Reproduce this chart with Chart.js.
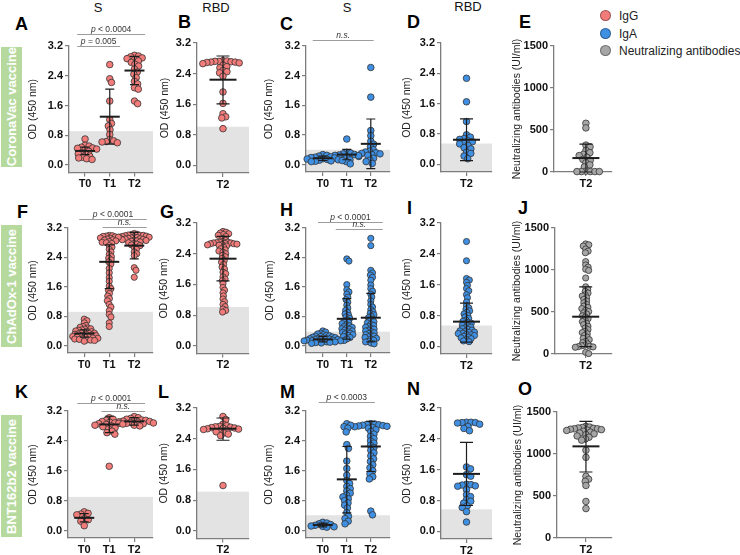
<!DOCTYPE html>
<html><head><meta charset="utf-8">
<script src="https://cdn.jsdelivr.net/npm/chart.js@4.4.1/dist/chart.umd.min.js"></script>
<style>
html,body{margin:0;padding:0;background:#fff;}
body{width:740px;height:555px;position:relative;overflow:hidden;font-family:"Liberation Sans",Arial,sans-serif;}
.letter{position:absolute;font-weight:bold;font-size:18px;line-height:1;color:#000;}
.ttl{position:absolute;font-size:13px;line-height:14px;color:#111;text-align:center;width:60px;}
.vac{position:absolute;left:1px;width:21px;background:#b6da9e;color:#fff;font-weight:bold;font-size:13px;display:flex;align-items:center;justify-content:center;}
.vac span{writing-mode:vertical-rl;transform:rotate(180deg);white-space:nowrap;}
.leg{position:absolute;left:600px;top:8px;font-size:12px;line-height:17.5px;color:#222;white-space:nowrap;}
.leg .dot{display:inline-block;width:9px;height:9px;border-radius:50%;margin-right:8px;vertical-align:-1px;border:0.5px solid rgba(0,0,0,0.35);}
canvas{position:absolute;}
</style></head><body>

<div class="vac" style="top:47px;height:120px"><span>CoronaVac vaccine</span></div>
<div class="vac" style="top:225px;height:122px"><span>ChAdOx-1 vaccine</span></div>
<div class="vac" style="top:415px;height:122px"><span>BNT162b2 vaccine</span></div>

<div class="ttl" style="left:68px;top:1px">S</div>
<div class="ttl" style="left:186px;top:1px">RBD</div>
<div class="ttl" style="left:317px;top:1px">S</div>
<div class="ttl" style="left:438px;top:0px">RBD</div>

<div class="letter" style="left:15px;top:15px">A</div>
<div class="letter" style="left:178px;top:13px">B</div>
<div class="letter" style="left:280px;top:15px">C</div>
<div class="letter" style="left:407px;top:13px">D</div>
<div class="letter" style="left:519px;top:13px">E</div>
<div class="letter" style="left:17px;top:203px">F</div>
<div class="letter" style="left:160px;top:203px">G</div>
<div class="letter" style="left:280px;top:201px">H</div>
<div class="letter" style="left:407px;top:199px">I</div>
<div class="letter" style="left:518px;top:199px">J</div>
<div class="letter" style="left:15px;top:383px">K</div>
<div class="letter" style="left:158px;top:383px">L</div>
<div class="letter" style="left:280px;top:383px">M</div>
<div class="letter" style="left:407px;top:380px">N</div>
<div class="letter" style="left:518px;top:380px">O</div>

<div class="leg">
  <div><span class="dot" style="background:#f27c7a"></span>IgG</div>
  <div><span class="dot" style="background:#3f8fe2"></span>IgA</div>
  <div><span class="dot" style="background:#a6a6a6"></span>Neutralizing antibodies</div>
</div>

<script>
// ---------- tick labels & categories ----------
const odTicks = [0, 0.8, 1.6, 2.4, 3.2];
const nabTicks = [0, 500, 1000, 1500];
const cats3 = ['T0', 'T1', 'T2'];
const cats1 = ['T2'];

// ---------- CoronaVac ----------
const A_T0 = [0.70, 0.53, 0.51, 0.48, 0.46, 0.45, 0.43, 0.41, 0.37, 0.33, 0.30, 0.28, 0.24, 0.21, 0.19, 0.17, 0.15];
const A_T1 = [2.70, 2.32, 2.22, 1.72, 1.22, 1.12, 1.05, 0.95, 0.82, 0.68, 0.65, 0.63, 0.62, 0.60];
const A_T2 = [2.95, 2.93, 2.91, 2.88, 2.86, 2.83, 2.80, 2.76, 2.71, 2.66, 2.58, 2.50, 2.44, 2.35, 2.25, 2.18, 2.08, 2.04, 1.72, 1.65];
const A_mid = [0.38, 1.30, 2.54], A_lo = [0.28, 0.56, 2.16], A_hi = [0.48, 2.04, 2.92];
const A_cut = 0.91;

const B_T2 = [2.74, 2.73, 2.72, 2.72, 2.71, 2.70, 2.70, 2.69, 2.68, 2.66, 2.62, 2.58, 2.55, 2.48, 2.45, 2.42, 2.33, 1.92, 1.62, 1.35, 1.27, 1.24, 0.96];
const B_mid = [2.24], B_lo = [1.61], B_hi = [2.86];
const B_cut = 1.01;

const C_T0 = [0.27, 0.25, 0.23, 0.21, 0.20, 0.19, 0.18, 0.16, 0.15, 0.14, 0.13, 0.12, 0.11, 0.10, 0.09, 0.08];
const C_T1 = [0.69, 0.33, 0.31, 0.29, 0.27, 0.26, 0.25, 0.24, 0.20, 0.13, 0.08, 0.02];
const C_T2 = [2.62, 1.82, 0.92, 0.78, 0.63, 0.55, 0.48, 0.40, 0.36, 0.34, 0.32, 0.30, 0.29, 0.27, 0.25, 0.22, 0.17, 0.12, 0.08, 0.03];
const C_mid = [0.17, 0.27, 0.56], C_lo = [0.11, 0.13, -0.11], C_hi = [0.23, 0.41, 1.23];
const C_cut = 0.40;

const D_T2 = [2.27, 1.65, 1.13, 0.78, 0.72, 0.68, 0.66, 0.62, 0.60, 0.56, 0.54, 0.50, 0.44, 0.41, 0.32, 0.29, 0.22, 0.15];
const D_mid = [0.65], D_lo = [0.10], D_hi = [1.20];
const D_cut = 0.55;

const E_T2 = [580, 525, 320, 300, 255, 230, 210, 195, 175, 150, 140, 110, 85, 60, 10, 5, 5, 5, 5, 5];
const E_mid = [166], E_lo = [0], E_hi = [332];

// ---------- ChAdOx-1 ----------
const F_T0 = [0.72, 0.68, 0.62, 0.55, 0.52, 0.50, 0.48, 0.46, 0.45, 0.43, 0.42, 0.40, 0.39, 0.38, 0.36, 0.35, 0.34, 0.33, 0.32, 0.31, 0.30, 0.29, 0.28, 0.27, 0.26, 0.25, 0.24, 0.23, 0.22, 0.21, 0.20, 0.19, 0.18, 0.17, 0.16, 0.15, 0.14, 0.12];
const F_T1 = [3.00, 2.99, 2.98, 2.97, 2.96, 2.95, 2.93, 2.92, 2.90, 2.88, 2.87, 2.85, 2.83, 2.81, 2.80, 2.78, 2.72, 2.68, 2.62, 2.55, 2.48, 2.42, 2.38, 2.33, 2.28, 2.22, 2.10, 1.98, 1.85, 1.75, 1.62, 1.55, 1.50, 1.42, 1.35, 1.28, 1.22, 1.12, 1.05, 0.95, 0.85, 0.78, 0.62, 0.52];
const F_T2 = [3.05, 3.03, 3.02, 3.01, 3.00, 3.00, 2.99, 2.98, 2.97, 2.96, 2.95, 2.95, 2.94, 2.93, 2.92, 2.91, 2.90, 2.89, 2.88, 2.87, 2.86, 2.85, 2.84, 2.82, 2.80, 2.78, 2.76, 2.74, 2.72, 2.68, 2.62, 2.55, 2.50, 2.45, 2.12, 2.05, 1.86];
const F_mid = [0.33, 2.28, 2.72], F_lo = [0.23, 1.55, 2.36], F_hi = [0.43, 2.74, 3.08];
const F_cut = 0.92;

const G_T2 = [2.98, 2.96, 2.94, 2.92, 2.90, 2.88, 2.85, 2.80, 2.75, 2.72, 2.70, 2.70, 2.69, 2.68, 2.68, 2.67, 2.66, 2.66, 2.65, 2.64, 2.63, 2.62, 2.60, 2.57, 2.53, 2.50, 2.47, 2.44, 2.40, 2.36, 2.32, 2.28, 2.22, 2.18, 2.12, 2.05, 2.00, 1.92, 1.88, 1.80, 1.74, 1.70, 1.62, 1.52, 1.45, 1.38, 1.30, 1.22, 1.15, 1.08, 1.02, 0.96, 0.92, 0.88];
const G_mid = [2.27], G_lo = [1.69], G_hi = [2.85];
const G_cut = 1.01;

const H_T0 = [0.40, 0.37, 0.34, 0.32, 0.30, 0.28, 0.27, 0.26, 0.25, 0.24, 0.23, 0.22, 0.21, 0.20, 0.19, 0.19, 0.18, 0.17, 0.17, 0.16, 0.15, 0.15, 0.14, 0.13, 0.13, 0.12, 0.11, 0.10, 0.10, 0.09, 0.08, 0.07, 0.06];
const H_T1 = [2.36, 2.30, 1.66, 1.52, 1.46, 1.40, 1.32, 1.25, 1.18, 1.10, 1.02, 0.96, 0.90, 0.86, 0.82, 0.78, 0.74, 0.70, 0.66, 0.63, 0.60, 0.57, 0.54, 0.52, 0.50, 0.48, 0.46, 0.44, 0.42, 0.40, 0.38, 0.36, 0.34, 0.32, 0.30, 0.28, 0.25, 0.22, 0.18, 0.14];
const H_T2 = [2.92, 2.72, 2.05, 1.98, 1.92, 1.86, 1.78, 1.65, 1.55, 1.48, 1.40, 1.32, 1.22, 1.12, 1.05, 0.98, 0.92, 0.88, 0.84, 0.80, 0.76, 0.72, 0.68, 0.65, 0.62, 0.58, 0.55, 0.52, 0.50, 0.47, 0.45, 0.42, 0.40, 0.38, 0.35, 0.33, 0.30, 0.28, 0.26, 0.24, 0.22, 0.20, 0.18, 0.15, 0.12, 0.10, 0.07, 0.05];
const H_mid = [0.17, 0.73, 0.76], H_lo = [0.10, 0.18, 0.10], H_hi = [0.25, 1.28, 1.42];
const H_cut = 0.38;

const I_T2 = [2.72, 2.22, 1.76, 1.72, 1.66, 1.58, 1.50, 1.44, 1.34, 1.26, 1.15, 1.06, 1.00, 0.96, 0.92, 0.88, 0.84, 0.80, 0.76, 0.72, 0.68, 0.65, 0.62, 0.60, 0.58, 0.55, 0.53, 0.50, 0.48, 0.46, 0.44, 0.42, 0.40, 0.39, 0.37, 0.36, 0.34, 0.33, 0.31, 0.30, 0.28, 0.26, 0.24, 0.22, 0.20, 0.17, 0.14, 0.12];
const I_mid = [0.64], I_lo = [0.11], I_hi = [1.12];
const I_cut = 0.54;

const J_T2 = [1310, 1300, 1285, 1250, 1225, 1205, 1100, 1060, 1035, 1010, 995, 905, 800, 770, 745, 725, 705, 690, 670, 650, 630, 610, 590, 570, 555, 540, 520, 505, 490, 475, 455, 440, 420, 400, 385, 365, 350, 330, 310, 290, 270, 255, 240, 220, 200, 185, 170, 150, 135, 120, 105, 98, 92, 88, 84, 80, 20, 5];
const J_mid = [444], J_lo = [88], J_hi = [800];

// ---------- BNT162b2 ----------
const K_T0 = [0.50, 0.46, 0.44, 0.42, 0.31, 0.29, 0.25, 0.13];
const K_T1 = [3.02, 2.98, 2.95, 2.92, 2.90, 2.88, 2.87, 2.86, 2.85, 2.84, 2.82, 2.80, 2.78, 2.75, 2.72, 2.66, 2.62, 2.58, 1.72];
const K_T2 = [3.05, 3.02, 3.00, 2.98, 2.96, 2.95, 2.94, 2.93, 2.92, 2.91, 2.90, 2.89, 2.88, 2.87, 2.86, 2.85, 2.84, 2.82, 2.80];
const K_mid = [0.34, 2.84, 2.92], K_lo = [0.23, 2.62, 2.82], K_hi = [0.45, 3.06, 3.02];
const K_cut = 0.90;

const L_T2 = [2.98, 2.90, 2.78, 2.74, 2.72, 2.71, 2.70, 2.69, 2.68, 2.67, 2.66, 2.65, 2.64, 2.62, 2.60, 2.58, 2.55, 2.52, 2.48, 1.18];
const L_mid = [2.66], L_lo = [2.36], L_hi = [2.94];
const L_cut = 1.02;

const M_T0 = [0.22, 0.20, 0.18, 0.16, 0.14, 0.12, 0.11, 0.10, 0.09];
const M_T1 = [2.86, 2.82, 2.78, 2.74, 2.64, 2.30, 2.20, 1.86, 1.66, 1.48, 1.34, 1.26, 1.18, 1.12, 1.06, 1.00, 0.95, 0.90, 0.85, 0.80, 0.74, 0.68, 0.60, 0.48, 0.38, 0.32, 0.25, 0.18];
const M_T2 = [2.86, 2.85, 2.84, 2.83, 2.82, 2.81, 2.80, 2.79, 2.78, 2.76, 2.74, 2.70, 2.65, 2.58, 2.52, 2.46, 2.40, 2.34, 2.28, 2.22, 2.15, 2.08, 2.00, 1.92, 1.85, 1.76, 1.68, 1.60, 1.52, 1.44, 1.38, 0.52, 0.42];
const M_mid = [0.15, 1.37, 2.25], M_lo = [0.10, 0.47, 1.58], M_hi = [0.20, 2.25, 2.92];
const M_cut = 0.41;

const N_T2 = [2.83, 2.83, 2.82, 2.82, 2.81, 2.78, 2.72, 2.67, 2.61, 1.67, 1.62, 1.47, 1.43, 1.22, 1.21, 1.20, 1.18, 1.17, 1.08, 0.95, 0.90, 0.82, 0.78, 0.73, 0.66, 0.62, 0.51, 0.24];
const N_mid = [1.49], N_lo = [0.67], N_hi = [2.31];
const N_cut = 0.57;

const O_T2 = [1330, 1320, 1315, 1310, 1305, 1300, 1300, 1295, 1290, 1285, 1280, 1270, 1260, 1250, 1240, 1230, 1215, 1200, 1180, 1165, 1045, 960, 735, 700, 675, 625, 435, 350];
const O_mid = [1091], O_lo = [786], O_hi = [1389];

// ---------- styles ----------
const FONT = '"Liberation Sans", Arial, sans-serif';
const IGG = '#f27c7a', IGA = '#3f8fe2', NAB = '#a6a6a6';
const AXIS = '#7d7d7d', BAND = '#e3e3e3';
const OD_TITLE = 'OD (450 nm)', NAB_TITLE = 'Neutralizing antibodies (UI/ml)';
const fmtOD = v => v.toFixed(1), fmtN = v => String(v);

const od = {yMin: -0.2, yMax: 3.2, ticks: odTicks, fmt: fmtOD, yTitle: OD_TITLE};
const nb = {yMin: 0, yMax: 1500, ticks: nabTicks, fmt: fmtN, yTitle: NAB_TITLE, cut: null};

const panels = [
  Object.assign({}, od, {cats: cats3, groups: [A_T0, A_T1, A_T2], mid: A_mid, lo: A_lo, hi: A_hi, cut: A_cut, color: IGG,
    titleX: 33, left: 69, right: 153, top: 46, bottom: 172.5, xMin: -0.65, xMax: 2.75, r: 3.3, sep: 0.62,
    brackets: [{x1: -0.32, x2: 2.43, off: 12, text: 'p < 0.0004'}, {x1: -0.32, x2: 1.42, off: 0, text: 'p = 0.005'}]}),
  Object.assign({}, od, {cats: cats1, groups: [B_T2], mid: B_mid, lo: B_lo, hi: B_hi, cut: B_cut, color: IGG,
    titleX: 165, left: 197, right: 249, top: 43, bottom: 173, xMin: -1, xMax: 1, r: 3.3, sep: 0.62}),
  Object.assign({}, od, {cats: cats3, groups: [C_T0, C_T1, C_T2], mid: C_mid, lo: C_lo, hi: C_hi, cut: C_cut, color: IGA,
    titleX: 269, left: 306, right: 390, top: 46, bottom: 172, xMin: -0.7, xMax: 2.8, r: 3.3, sep: 0.62,
    brackets: [{x1: -0.42, x2: 2.12, off: 6, text: 'n.s.'}]}),
  Object.assign({}, od, {cats: cats1, groups: [D_T2], mid: D_mid, lo: D_lo, hi: D_hi, cut: D_cut, color: IGA,
    titleX: 407, left: 441, right: 492, top: 43, bottom: 172, xMin: -1, xMax: 1, r: 3.3, sep: 0.68}),
  Object.assign({}, nb, {cats: cats1, groups: [E_T2], mid: E_mid, lo: E_lo, hi: E_hi, color: NAB,
    titleX: 517, left: 554, right: 612, top: 46, bottom: 172, xMin: -1.1, xMax: 0.9, r: 3.3, sep: 0.68}),

  Object.assign({}, od, {cats: cats3, groups: [F_T0, F_T1, F_T2], mid: F_mid, lo: F_lo, hi: F_hi, cut: F_cut, color: IGG,
    titleX: 33, left: 68, right: 153, top: 228, bottom: 353, xMin: -0.65, xMax: 2.75, r: 3.1, sep: 0.5,
    brackets: [{x1: -0.2, x2: 2.5, off: 9, text: 'p < 0.0001'}, {x1: 0.73, x2: 2.5, off: 1, text: 'n.s.'}]}),
  Object.assign({}, od, {cats: cats1, groups: [G_T2], mid: G_mid, lo: G_lo, hi: G_hi, cut: G_cut, color: IGG,
    titleX: 164, left: 197, right: 249, top: 223, bottom: 353.5, xMin: -1, xMax: 1, r: 3.1, sep: 0.5}),
  Object.assign({}, od, {cats: cats3, groups: [H_T0, H_T1, H_T2], mid: H_mid, lo: H_lo, hi: H_hi, cut: H_cut, color: IGA,
    titleX: 270, left: 306, right: 390, top: 228, bottom: 353, xMin: -0.7, xMax: 2.8, r: 3.1, sep: 0.5,
    brackets: [{x1: -0.2, x2: 2.5, off: 6, text: 'p < 0.0001'}, {x1: 0.54, x2: 2.5, off: -1, text: 'n.s.'}]}),
  Object.assign({}, od, {cats: cats1, groups: [I_T2], mid: I_mid, lo: I_lo, hi: I_hi, cut: I_cut, color: IGA,
    titleX: 407, left: 441, right: 492, top: 223, bottom: 354, xMin: -1, xMax: 1, r: 3.1, sep: 0.52}),
  Object.assign({}, nb, {cats: cats1, groups: [J_T2], mid: J_mid, lo: J_lo, hi: J_hi, color: NAB,
    titleX: 517, left: 555, right: 612, top: 228, bottom: 354, xMin: -1.05, xMax: 0.9, r: 3.1, sep: 0.52}),

  Object.assign({}, od, {cats: cats3, groups: [K_T0, K_T1, K_T2], mid: K_mid, lo: K_lo, hi: K_hi, cut: K_cut, color: IGG,
    titleX: 33, left: 68, right: 153, top: 411, bottom: 538, xMin: -0.65, xMax: 2.75, r: 3.3, sep: 0.62,
    brackets: [{x1: -0.28, x2: 2.43, off: 8, text: 'p < 0.0001'}, {x1: 0.69, x2: 2.43, off: 0, text: 'n.s.'}]}),
  Object.assign({}, od, {cats: cats1, groups: [L_T2], mid: L_mid, lo: L_lo, hi: L_hi, cut: L_cut, color: IGG,
    titleX: 164, left: 197, right: 249, top: 408, bottom: 538.5, xMin: -1, xMax: 1, r: 3.3, sep: 0.62}),
  Object.assign({}, od, {cats: cats3, groups: [M_T0, M_T1, M_T2], mid: M_mid, lo: M_lo, hi: M_hi, cut: M_cut, color: IGA,
    titleX: 269, left: 306, right: 390, top: 411, bottom: 538, xMin: -0.7, xMax: 2.8, r: 3.3, sep: 0.62,
    brackets: [{x1: -0.17, x2: 2.17, off: 9, text: 'p < 0.0003'}]}),
  Object.assign({}, od, {cats: cats1, groups: [N_T2], mid: N_mid, lo: N_lo, hi: N_hi, cut: N_cut, color: IGA,
    titleX: 407, left: 441, right: 492, top: 408, bottom: 539, xMin: -1, xMax: 1, r: 3.3, sep: 0.68}),
  Object.assign({}, nb, {cats: cats1, groups: [O_T2], mid: O_mid, lo: O_lo, hi: O_hi, color: NAB,
    titleX: 518, left: 557, right: 612, top: 412, bottom: 538, xMin: -1, xMax: 0.9, r: 3.3, sep: 0.6})
];

// beeswarm placement in pixel space, derived from the values
function swarm(py, half) {
  const d = 2 * half, d2 = d * d;
  const order = py.map((y, i) => i).sort((a, b) => py[a] - py[b]);
  const placed = [], xs = new Array(py.length).fill(0);
  for (const i of order) {
    const y = py[i];
    const near = placed.filter(q => Math.abs(q.y - y) < d);
    const cands = [0];
    near.forEach(q => { const dx = Math.sqrt(d2 - (q.y - y) * (q.y - y)); cands.push(q.x + dx, q.x - dx); });
    cands.sort((a, b) => Math.abs(a) - Math.abs(b));
    let best = 0;
    for (const c of cands) {
      if (near.every(q => (q.x - c) * (q.x - c) + (q.y - y) * (q.y - y) >= d2 - 0.01)) { best = c; break; }
    }
    xs[i] = best; placed.push({x: best, y});
  }
  return xs;
}

function drawP(ctx, text, cx, baseY) {
  const size = 8.5;
  if (text.startsWith('p')) {
    ctx.font = 'italic ' + size + 'px ' + FONT;
    const w1 = ctx.measureText('p').width;
    ctx.font = size + 'px ' + FONT;
    const rest = text.slice(1);
    const w2 = ctx.measureText(rest).width;
    const x0 = cx - (w1 + w2) / 2;
    ctx.font = 'italic ' + size + 'px ' + FONT;
    ctx.fillText('p', x0, baseY);
    ctx.font = size + 'px ' + FONT;
    ctx.fillText(rest, x0 + w1, baseY);
  } else {
    ctx.font = 'italic ' + size + 'px ' + FONT;
    const w = ctx.measureText(text).width;
    ctx.fillText(text, cx - w / 2, baseY);
  }
}

function makePanel(p) {
  const cl = Math.round(p.titleX - 6.3);
  const ct = Math.round(p.top - 30);
  const cw = Math.round(p.right + 9 - cl);
  const ch = Math.round(p.bottom + 22 - ct);
  const cv = document.createElement('canvas');
  cv.width = cw; cv.height = ch;
  cv.style.left = cl + 'px'; cv.style.top = ct + 'px';
  cv.style.width = cw + 'px'; cv.style.height = ch + 'px';
  document.body.appendChild(cv);
  const single = p.cats.length === 1;
  const capW = single ? 6.5 : 4.5, meanW = single ? 13.5 : 10;

  const tickFont = {family: FONT, size: 11, weight: 'bold'};
  const gridOpt = {display: true, drawOnChartArea: false, drawTicks: true, tickLength: 4, color: AXIS, lineWidth: 1.2};
  const borderOpt = {display: true, color: AXIS, width: 1.3};

  const chart = new Chart(cv.getContext('2d'), {
    type: 'scatter',
    data: {
      datasets: p.groups.map((g, i) => ({
        data: g.map(v => ({x: i, y: v})),
        backgroundColor: p.color, borderColor: '#333', borderWidth: 0.8,
        pointRadius: p.r, pointHoverRadius: p.r, clip: false
      }))
    },
    options: {
      responsive: false, animation: false,
      layout: {padding: {top: p.top - ct, right: cl + cw - p.right, left: 0, bottom: 0}},
      scales: {
        x: {
          type: 'linear', min: p.xMin, max: p.xMax,
          afterBuildTicks: s => { s.ticks = p.cats.map((c, i) => ({value: i})); },
          afterFit: s => { s.height = ct + ch - p.bottom; },
          ticks: {callback: v => (p.cats[v] !== undefined ? p.cats[v] : ''), font: tickFont, color: '#111', padding: 1, maxRotation: 0, autoSkip: false},
          grid: gridOpt, border: borderOpt
        },
        y: {
          type: 'linear', min: p.yMin, max: p.yMax,
          afterBuildTicks: s => { s.ticks = p.ticks.map(v => ({value: v})); },
          afterFit: s => { s.width = p.left - cl; },
          ticks: {callback: v => p.fmt(v), font: tickFont, color: '#111', padding: 2, autoSkip: false},
          grid: gridOpt, border: borderOpt,
          title: {display: true, text: p.yTitle, font: {family: FONT, size: 10.5}, color: '#222', padding: 0}
        }
      },
      plugins: {legend: {display: false}, tooltip: {enabled: false}}
    },
    plugins: [{
      id: 'band',
      beforeDraw(c) {
        if (p.cut === null || p.cut === undefined) return;
        const a = c.chartArea, ctx = c.ctx;
        const yp = c.scales.y.getPixelForValue(p.cut);
        ctx.save(); ctx.fillStyle = BAND;
        ctx.fillRect(a.left, yp, a.right - a.left, a.bottom - yp);
        ctx.restore();
      }
    }, {
      id: 'errbars',
      afterDatasetsDraw(c) {
        const ctx = c.ctx, xs = c.scales.x, ys = c.scales.y;
        ctx.save(); ctx.strokeStyle = '#1c1c1c';
        p.mid.forEach((m, i) => {
          const x = xs.getPixelForValue(i);
          const yl = ys.getPixelForValue(p.lo[i]), yh = ys.getPixelForValue(p.hi[i]), ym = ys.getPixelForValue(m);
          ctx.lineWidth = 1.2;
          ctx.beginPath();
          ctx.moveTo(x, yl); ctx.lineTo(x, yh);
          ctx.moveTo(x - capW, yl); ctx.lineTo(x + capW, yl);
          ctx.moveTo(x - capW, yh); ctx.lineTo(x + capW, yh);
          ctx.stroke();
          ctx.lineWidth = 2;
          ctx.beginPath(); ctx.moveTo(x - meanW, ym); ctx.lineTo(x + meanW, ym); ctx.stroke();
        });
        ctx.restore();
      }
    }, {
      id: 'brackets',
      afterDraw(c) {
        if (!p.brackets) return;
        const ctx = c.ctx, a = c.chartArea, xs = c.scales.x;
        ctx.save();
        p.brackets.forEach(b => {
          const y = a.top - b.off + 0.5;
          const x1 = xs.getPixelForValue(b.x1), x2 = xs.getPixelForValue(b.x2);
          ctx.strokeStyle = '#9d9d9d'; ctx.lineWidth = 1;
          ctx.beginPath(); ctx.moveTo(x1, y); ctx.lineTo(x2, y); ctx.stroke();
          ctx.fillStyle = '#333';
          drawP(ctx, b.text, (x1 + x2) / 2, y - 2.5);
        });
        ctx.restore();
      }
    }]
  });

  // spread points of each group horizontally as a swarm
  const xs = chart.scales.x, ys = chart.scales.y;
  const ppx = xs.getPixelForValue(1) - xs.getPixelForValue(0);
  p.groups.forEach((g, i) => {
    const py = g.map(v => ys.getPixelForValue(v));
    const off = swarm(py, p.r * p.sep);
    chart.data.datasets[i].data = g.map((v, k) => ({x: i + off[k] / ppx, y: v}));
  });
  chart.update('none');
}

panels.forEach(makePanel);
</script>
</body></html>
